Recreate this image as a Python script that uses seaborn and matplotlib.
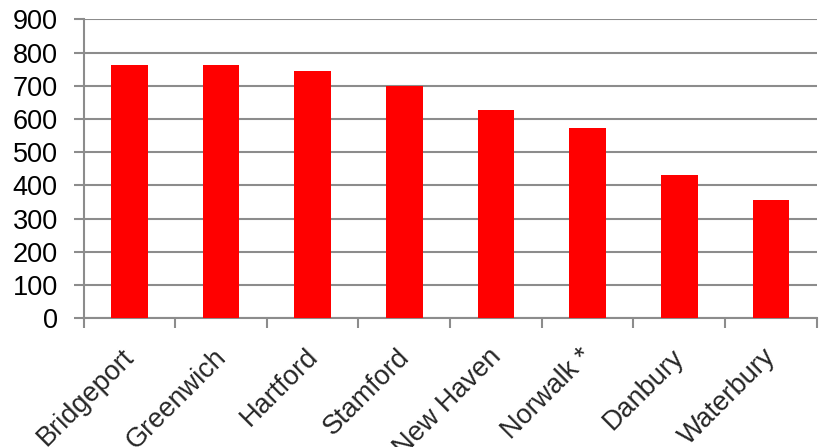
import matplotlib
matplotlib.use("Agg")
import matplotlib.pyplot as plt
import matplotlib.transforms as mtransforms
import seaborn as sns
import pandas as pd
from matplotlib.ticker import FixedLocator, NullFormatter

cities = ["Bridgeport", "Greenwich", "Hartford", "Stamford", "New Haven",
          "Norwalk *", "Danbury", "Waterbury"]
values = [762, 762, 744, 700, 626, 573, 431, 355]
yticks = [0, 100, 200, 300, 400, 500, 600, 700, 800, 900]

df = pd.DataFrame({"city": cities, "value": values})

sns.set_theme(style="white")
plt.rcParams["font.family"] = ["Liberation Sans", "DejaVu Sans"]

fig = plt.figure(figsize=(8.21, 4.47), dpi=100)
ax = fig.add_axes([83.5 / 821, 1 - 318.3 / 447, (816.7 - 83.5) / 821, (318.3 - 19.3) / 447])

sns.barplot(data=df, x="city", y="value", color="#FF0000", width=0.40,
            saturation=1, ax=ax, zorder=3, linewidth=0)

grid_c = "#8C8C8C"
ax.set_ylim(0, 900)
ax.set_xlim(-0.5, len(cities) - 0.5)
ax.set_yticks(yticks)
ax.set_yticklabels([str(t) for t in yticks], fontsize=19.5)
ax.yaxis.grid(True, color=grid_c, linewidth=1.5, zorder=0)
ax.set_axisbelow(True)

ax.set_xticks(range(len(cities)))
ax.set_xticklabels(cities, fontsize=19.5, rotation=45, ha="right",
                   rotation_mode="anchor")
ax.tick_params(axis="x", which="major", length=0, pad=14)
offset = mtransforms.ScaledTranslation(-8 / 100, -6 / 100, fig.dpi_scale_trans)
for lbl in ax.get_xticklabels():
    lbl.set_transform(lbl.get_transform() + offset)
ax.xaxis.set_minor_locator(FixedLocator([i - 0.5 for i in range(len(cities) + 1)]))
ax.xaxis.set_minor_formatter(NullFormatter())
ax.tick_params(axis="x", which="minor", length=7, width=1.5, color=grid_c, bottom=True)
ax.tick_params(axis="y", length=7, width=1.5, color=grid_c, left=True, pad=11.5,
               labelcolor="black")
ax.set_xlabel("")
ax.set_ylabel("")
for s in ["top", "right"]:
    ax.spines[s].set_visible(False)
for s in ["left", "bottom"]:
    ax.spines[s].set_color(grid_c)
    ax.spines[s].set_linewidth(1.5)

fig.savefig("out.png", dpi=100)
